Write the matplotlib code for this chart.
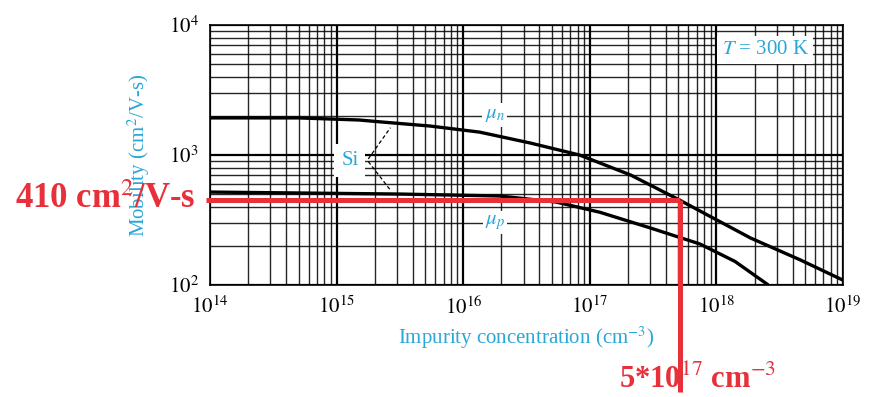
import numpy as np
import matplotlib.pyplot as plt
from matplotlib.ticker import LogLocator, FixedLocator

# impurity concentration (cm^-3) and mobilities (cm^2/V-s)
conc_n = [1e14, 5e14, 1.5e15, 2.2e15, 5.5e15, 1.35e16, 3.4e16, 8.3e16,
          2.1e17, 5.1e17, 1.86e18, 4.6e18, 1e19]
mu_n = [1930, 1930, 1860, 1800, 1670, 1500, 1236, 1000,
        702, 451, 230, 156, 109]

conc_p = [1e14, 3.2e15, 1.95e16, 5.4e16, 1.2e17, 3e17, 7.4e17, 1.4e18, 2.5e18]
mu_p = [519, 501, 484, 435, 363, 275, 207, 152, 102]

x_ticks = [1e14, 1e15, 1e16, 1e17, 1e18, 1e19]
x_labels = ["$10^{14}$", "$10^{15}$", "$10^{16}$", "$10^{17}$", "$10^{18}$", "$10^{19}$"]
y_ticks = [1e2, 1e3, 1e4]
y_labels = ["$10^{2}$", "$10^{3}$", "$10^{4}$"]

# red read-out lines
red_x = 5.2e17
red_y = 450
red_bottom = 15

cyan = "#2aa7d8"
red = "#e8303a"

plt.rcParams['font.family'] = ['Liberation Serif', 'DejaVu Serif']
plt.rcParams['mathtext.fontset'] = 'stix'

fig = plt.figure(figsize=(8.7, 3.97), dpi=100)
ax = fig.add_axes([0.2414, 0.282, 0.7276, 0.655])
ax.set_xscale('log')
ax.set_yscale('log')
ax.set_xlim(1e14, 1e19)
ax.set_ylim(1e2, 1e4)

ax.xaxis.set_major_locator(FixedLocator(x_ticks))
ax.set_xticklabels(x_labels)
ax.yaxis.set_major_locator(FixedLocator(y_ticks))
ax.set_yticklabels(y_labels)
ax.xaxis.set_minor_locator(LogLocator(base=10, subs=np.arange(2, 10)))
ax.yaxis.set_minor_locator(LogLocator(base=10, subs=np.arange(2, 10)))
ax.tick_params(which='both', length=0, labelsize=15, pad=8)
ax.xaxis.set_minor_formatter(plt.NullFormatter())
ax.yaxis.set_minor_formatter(plt.NullFormatter())

ax.grid(which='major', color='black', linewidth=1.6)
ax.grid(which='minor', color='black', linewidth=1.0, alpha=0.85)
ax.set_axisbelow(True)
for s in ax.spines.values():
    s.set_color('black')
    s.set_linewidth(1.2)

# mobility curves
ax.plot(conc_n, mu_n, color='black', linewidth=2.4, zorder=3,
        solid_joinstyle='round')
ax.plot(conc_p, mu_p, color='black', linewidth=2.4, zorder=3,
        solid_joinstyle='round')

# labels on the curves
box = dict(facecolor='white', edgecolor='none', pad=1.5)
ax.text(0.45, 0.654, r"$\mu_n$", transform=ax.transAxes, color=cyan,
        fontsize=15, ha='center', va='center', bbox=box, zorder=4)
ax.text(0.45, 0.242, r"$\mu_p$", transform=ax.transAxes, color=cyan,
        fontsize=15, ha='center', va='center', bbox=box, zorder=4)
ax.text(0.221, 0.48, "Si", transform=ax.transAxes, color=cyan,
        fontsize=15, ha='center', va='center',
        bbox=dict(facecolor='white', edgecolor='none', pad=5), zorder=4)
ax.plot([0.25, 0.285], [0.485, 0.605], transform=ax.transAxes,
        color='black', linewidth=0.9, linestyle=(0, (3, 2)), zorder=5)
ax.plot([0.25, 0.285], [0.475, 0.365], transform=ax.transAxes,
        color='black', linewidth=0.9, linestyle=(0, (3, 2)), zorder=5)
ax.text(0.877, 0.904, r"$T$ = 300 K", transform=ax.transAxes, color=cyan,
        fontsize=15, ha='center', va='center',
        bbox=dict(facecolor='white', edgecolor='none', pad=3), zorder=4)

ax.set_xlabel("Impurity concentration (cm$^{-3}$)", color=cyan, fontsize=15, labelpad=4)
ax.set_ylabel("Mobility (cm$^{2}$/V-s)", color=cyan, fontsize=15, labelpad=12)

# red read-out
ax.plot([1e14 * 0.93, red_x], [red_y, red_y], color=red, linewidth=3.6,
        clip_on=False, zorder=6, solid_capstyle='butt')
ax.plot([red_x, red_x], [red_y, red_bottom], color=red, linewidth=3.6,
        clip_on=False, zorder=6, solid_capstyle='butt')
ax.text(0.225, 1 - 200 / 397, "410 cm$^{2}$/V-s", transform=fig.transFigure,
        color=red, fontsize=25, fontweight='bold', ha='right', va='center')
ax.text(0.802, 1 - 380 / 397, "5*10$^{17}$ cm$^{-3}$", transform=fig.transFigure,
        color=red, fontsize=22, fontweight='bold', ha='center', va='center')

fig.savefig("out.png", dpi=100)
